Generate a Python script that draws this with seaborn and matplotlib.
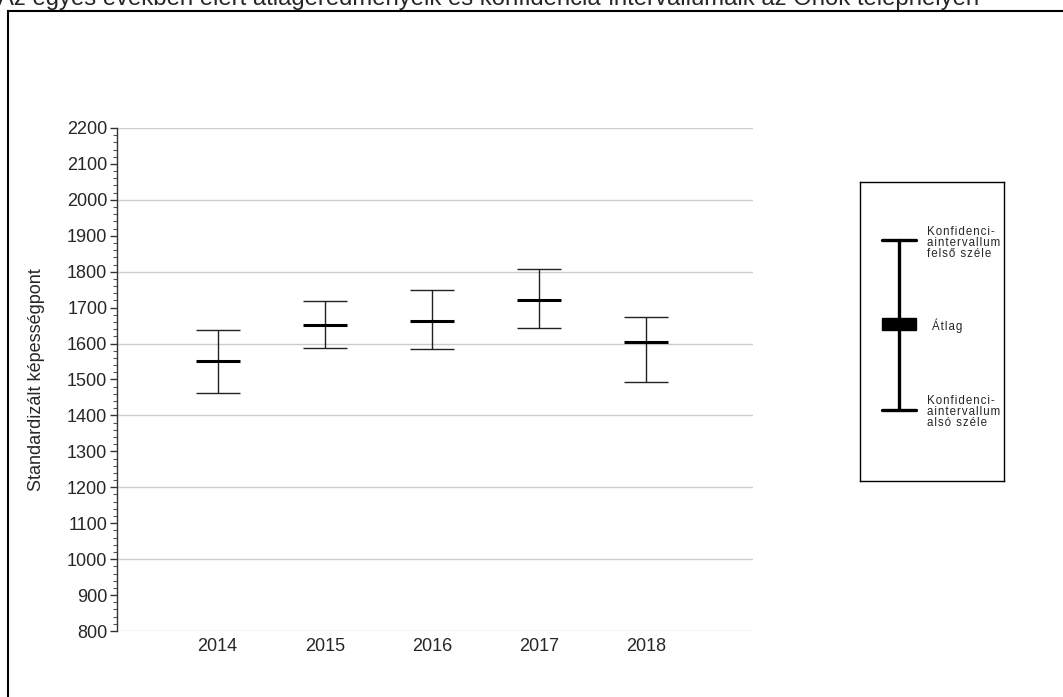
import matplotlib
matplotlib.use("Agg")
import matplotlib.pyplot as plt
import matplotlib.patches as patches
from matplotlib.ticker import MultipleLocator
import seaborn as sns
import pandas as pd
import numpy as np

# --- Data ---
years = ["2014", "2015", "2016", "2017", "2018"]
means = [1552, 1652, 1662, 1720, 1603]
ci_low = [1462, 1589, 1584, 1643, 1493]
ci_high = [1638, 1718, 1748, 1808, 1674]

TITLE = "Az egyes években elért átlageredményeik és konfidencia-intervallumaik az Önök telephelyén"
YLABEL = "Standardizált képességpont"
LEG_UPPER = "Konfidenci-\naintervallum\nfelső széle"
LEG_MEAN = "Átlag"
LEG_LOWER = "Konfidenci-\naintervallum\nalsó széle"

sns.set_style("white")
plt.rcParams["font.family"] = ["Liberation Sans", "DejaVu Sans"]


def spaced(txt):
    # the legend texts of the original are letter-spaced
    return "\n".join("\u200a".join(line) for line in txt.split("\n"))


df = pd.DataFrame({"year": years, "mean": means, "low": ci_low, "high": ci_high})
df["pos"] = np.arange(len(df))

fig = plt.figure(figsize=(10.63, 6.97), dpi=100)
ax = fig.add_axes([117 / 1063, 1 - 631 / 697, 636 / 1063, 503 / 697])

# --- Confidence intervals ---
ax.errorbar(df["pos"], df["mean"],
            yerr=[df["mean"] - df["low"], df["high"] - df["mean"]],
            fmt="none", ecolor="#222222", elinewidth=1.0,
            capsize=15.5, capthick=1.0, zorder=3)

# --- Means ---
sns.scatterplot(data=df, x="pos", y="mean", marker="_", s=31 ** 2,
                linewidth=2.2, color="black", ax=ax, zorder=4, legend=False)

ax.set_xlim(-0.94, 5.0)
ax.set_ylim(800, 2200)
ax.set_xticks(df["pos"])
ax.set_xticklabels(years, fontsize=13)
ax.yaxis.set_major_locator(MultipleLocator(100))
ax.yaxis.set_minor_locator(MultipleLocator(20))
ax.tick_params(axis="y", which="major", direction="out", length=5, width=1,
               color="#333333", labelsize=13, pad=2, left=True)
ax.tick_params(axis="y", which="minor", direction="out", length=3, width=0.8,
               color="#555555", left=True)
ax.tick_params(axis="x", length=0, pad=5)

for y in range(800, 2201, 200):
    ax.axhline(y, color="#cccccc", linewidth=1.0, zorder=1)

for side in ["top", "right", "bottom"]:
    ax.spines[side].set_visible(False)
ax.spines["left"].set_color("#333333")
ax.spines["left"].set_linewidth(1.0)
ax.set_xlabel("")
ax.set_ylabel(YLABEL, fontsize=13, labelpad=16)

# --- Legend panel ---
lg = fig.add_axes([860 / 1063, 1 - 481 / 697, 144 / 1063, 299 / 697])
lg.set_xlim(0, 144)
lg.set_ylim(299, 0)
lg.set_xticks([])
lg.set_yticks([])
for s in lg.spines.values():
    s.set_color("black")
    s.set_linewidth(1.0)
lg.plot([39, 39], [58, 228], color="black", linewidth=2.4)
lg.plot([22, 56], [58, 58], color="black", linewidth=2.4)
lg.plot([22, 56], [228, 228], color="black", linewidth=2.4)
lg.add_patch(patches.Rectangle((22, 136), 34, 12, color="black"))
lg.text(67, 61, spaced(LEG_UPPER), fontsize=8.3,
        va="center", ha="left", linespacing=0.92)
lg.text(72, 144, spaced(LEG_MEAN), fontsize=8.3, va="center", ha="left")
lg.text(67, 230, spaced(LEG_LOWER), fontsize=8.3,
        va="center", ha="left", linespacing=0.92)

# --- Outer frame and clipped title ---
fig.patches.append(patches.Rectangle((8 / 1063, -0.05), 1.1, 1.05 - 11 / 697,
                                     transform=fig.transFigure, fill=False,
                                     edgecolor="black", linewidth=1.5))
fig.text(-0.002, 1 - 5 / 697, TITLE, fontsize=17.2, ha="left", va="baseline")

fig.savefig("out.png", dpi=100)
